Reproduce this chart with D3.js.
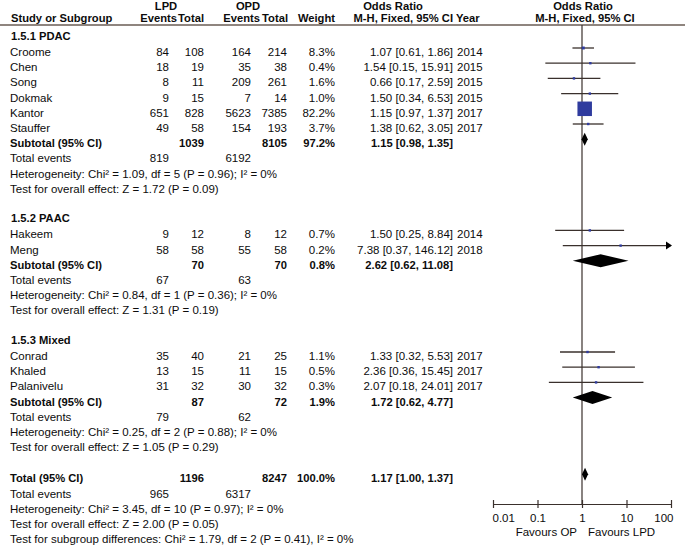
<!DOCTYPE html>
<html><head><meta charset="utf-8">
<script src="https://cdn.jsdelivr.net/npm/d3@7"></script>
<style>
body{margin:0;background:#fff}
svg{display:block}
text{font-family:"Liberation Sans",Arial,sans-serif;font-size:11.5px;fill:#0c0c0c}
.b{font-weight:bold;font-size:11.2px}
</style>
</head><body><svg id="c" width="685" height="545"></svg>
<script>
// ---------- data ----------
const studies    = ["Croome","Chen","Song","Dokmak","Kantor","Stauffer","Hakeem","Meng","Conrad","Khaled","Palanivelu"];
const studyGroup = [0,0,0,0,0,0,1,1,2,2,2];
const lpdEvents  = [84,18,8,9,651,49,9,58,35,13,31];
const lpdTotal   = [108,19,11,15,828,58,12,58,40,15,32];
const opdEvents  = [164,35,209,7,5623,154,8,55,21,11,30];
const opdTotal   = [214,38,261,14,7385,193,12,58,25,15,32];
const weights    = [8.3,0.4,1.6,1.0,82.2,3.7,0.7,0.2,1.1,0.5,0.3];
const orVal      = [1.07,1.54,0.66,1.50,1.15,1.38,1.50,7.38,1.33,2.36,2.07];
const orLo       = [0.61,0.15,0.17,0.34,0.97,0.62,0.25,0.37,0.32,0.36,0.18];
const orHi       = [1.86,15.91,2.59,6.53,1.37,3.05,8.84,146.12,5.53,15.45,24.01];
const years      = [2014,2015,2015,2015,2017,2017,2014,2018,2017,2017,2017];

const groupNames    = ["1.5.1 PDAC","1.5.2 PAAC","1.5.3 Mixed"];
const subLpdTotal   = [1039,70,87];
const subOpdTotal   = [8105,70,72];
const subWeight     = [97.2,0.8,1.9];
const subOr         = [1.15,2.62,1.72];
const subLo         = [0.98,0.62,0.62];
const subHi         = [1.35,11.08,4.77];
const subLpdEvents  = [819,67,79];
const subOpdEvents  = [6192,63,62];
const subHet = [
  "Heterogeneity: Chi² = 1.09, df = 5 (P = 0.96); I² = 0%",
  "Heterogeneity: Chi² = 0.84, df = 1 (P = 0.36); I² = 0%",
  "Heterogeneity: Chi² = 0.25, df = 2 (P = 0.88); I² = 0%"];
const subTest = [
  "Test for overall effect: Z = 1.72 (P = 0.09)",
  "Test for overall effect: Z = 1.31 (P = 0.19)",
  "Test for overall effect: Z = 1.05 (P = 0.29)"];

const totalLpdTotal = 1196, totalOpdTotal = 8247, totalWeight = 100.0;
const totalOr = 1.17, totalLo = 1.00, totalHi = 1.37;
const totalLpdEvents = 965, totalOpdEvents = 6317;
const totalHet  = "Heterogeneity: Chi² = 3.45, df = 10 (P = 0.97); I² = 0%";
const totalTest = "Test for overall effect: Z = 2.00 (P = 0.05)";
const subDiff   = "Test for subgroup differences: Chi² = 1.79, df = 2 (P = 0.41), I² = 0%";

const axisTicks  = [0.01,0.1,1,10,100];
const tickLabels = ["0.01","0.1","1","10","100"];
const favLeft = "Favours OP", favRight = "Favours LPD";

// ---------- layout ----------
const svg = d3.select("#c");
const x = d3.scaleLog().domain([0.01,100]).range([493,671]);
const y = d3.scaleLinear().domain([0,1]).range([48,63.2]);   // row index -> row centre line
const sq = d3.scalePow().exponent(0.7).domain([0,82.2]).range([0,14.5]);
const f2 = d3.format(".2f"), f1 = d3.format(".1f");
const orText = (v,l,h)=>`${f2(v)} [${f2(l)}, ${f2(h)}]`;
const lineCol = "#3a302c", boxCol = "#2f3b9e";
const axisY = 504, headLineY = 25;
const TB = 8; // text baseline offset below row line

const col = {name:10, lpdE:169, lpdT:204, opdE:251, opdT:287, w:335, or:453, yr:456};

function txt(xp, yp, s, anchor, bold){
  return svg.append("text").attr("x",xp).attr("y",yp).attr("text-anchor",anchor||"start")
    .attr("class",bold?"b":null).text(s);
}

// header
txt(166,10,"LPD","middle",true);
txt(248,10,"OPD","middle",true);
txt(393,10,"Odds Ratio","middle",true);
txt(583,10,"Odds Ratio","middle",true);
txt(col.name+1,22,"Study or Subgroup","start",true);
txt(177,22,"Events","end",true);
txt(col.lpdT,22,"Total","end",true);
txt(260,22,"Events","end",true);
txt(col.opdT+1,22,"Total","end",true);
txt(col.w,22,"Weight","end",true);
txt(col.or,22,"M-H, Fixed, 95% CI","end",true);
txt(col.yr,22,"Year","start",true);
txt(585,22,"M-H, Fixed, 95% CI","middle",true);
svg.append("line").attr("x1",0).attr("x2",685).attr("y1",headLineY).attr("y2",headLineY)
  .attr("stroke","#6a5d55").attr("stroke-width",1.5);

// zero line
svg.append("line").attr("x1",x(1)).attr("x2",x(1)).attr("y1",headLineY).attr("y2",axisY)
  .attr("stroke",lineCol).attr("stroke-width",1.2);

// build rows
let idx = -1.05;
const plot = svg.append("g");
function diamond(r, v, l, h){
  const cy = y(r), hh = 6.5;
  plot.append("path").attr("d",`M${x(l)},${cy}L${x(v)},${cy-hh}L${x(h)},${cy}L${x(v)},${cy+hh}Z`).attr("fill","#000");
}
groupNames.forEach((gName,g)=>{
  txt(col.name+1, y(idx)+TB, gName, "start", true);
  idx += 1.05;
  studies.forEach((s,i)=>{
    if(studyGroup[i]!==g) return;
    const b = y(idx)+TB;
    txt(col.name, b, s);
    txt(col.lpdE, b, lpdEvents[i], "end");
    txt(col.lpdT, b, lpdTotal[i], "end");
    txt(col.opdE, b, opdEvents[i], "end");
    txt(col.opdT, b, opdTotal[i], "end");
    txt(col.w, b, f1(weights[i])+"%", "end");
    txt(col.or, b, orText(orVal[i],orLo[i],orHi[i]), "end");
    txt(col.yr+1, b, years[i], "start");
    const cy = y(idx);
    const hiC = Math.min(orHi[i], x.domain()[1]);
    plot.append("line").attr("x1",x(orLo[i])).attr("x2",x(hiC)).attr("y1",cy).attr("y2",cy)
      .attr("stroke",lineCol).attr("stroke-width",1.3);
    if(orHi[i] > x.domain()[1]){
      const ax = x(x.domain()[1]);
      plot.append("path").attr("d",`M${ax-5},${cy-4}L${ax+1},${cy}L${ax-5},${cy+4}Z`).attr("fill","#000");
    }
    const s2 = Math.max(2.4, sq(weights[i]));
    plot.append("rect").attr("x",x(orVal[i])-s2/2).attr("y",cy-s2/2).attr("width",s2).attr("height",s2)
      .attr("fill",boxCol);
    idx += 1;
  });
  let b = y(idx)+TB;
  txt(col.name, b, "Subtotal (95% CI)", "start", true);
  txt(col.lpdT, b, subLpdTotal[g], "end", true);
  txt(col.opdT, b, subOpdTotal[g], "end", true);
  txt(col.w, b, f1(subWeight[g])+"%", "end", true);
  txt(col.or, b, orText(subOr[g],subLo[g],subHi[g]), "end", true);
  diamond(idx, subOr[g], subLo[g], subHi[g]);
  idx += 1; b = y(idx)+TB;
  txt(col.name, b, "Total events");
  txt(col.lpdE, b, subLpdEvents[g], "end");
  txt(col.opdE, b, subOpdEvents[g], "end");
  idx += 1; txt(col.name, y(idx)+TB, subHet[g]);
  idx += 1; txt(col.name, y(idx)+TB, subTest[g]);
  idx += 1.95;
});
idx += 0.1;
let b = y(idx)+TB;
txt(col.name, b, "Total (95% CI)", "start", true);
txt(col.lpdT, b, totalLpdTotal, "end", true);
txt(col.opdT, b, totalOpdTotal, "end", true);
txt(col.w, b, f1(totalWeight)+"%", "end", true);
txt(col.or, b, orText(totalOr,totalLo,totalHi), "end", true);
diamond(idx, totalOr, totalLo, totalHi);
idx += 1; b = y(idx)+TB;
txt(col.name, b, "Total events");
txt(col.lpdE, b, totalLpdEvents, "end");
txt(col.opdE, b, totalOpdEvents, "end");
idx += 1; txt(col.name, y(idx)+TB, totalHet);
idx += 1; txt(col.name, y(idx)+TB, totalTest);
idx += 1; txt(col.name, y(idx)+TB, subDiff);

// axis
const axis = d3.axisBottom(x).tickValues(axisTicks).tickFormat((d,i)=>tickLabels[i])
  .tickSizeInner(4).tickSizeOuter(0);
const ga = svg.append("g").attr("transform",`translate(0,${axisY})`).call(axis);
ga.attr("font-family",null).attr("font-size",null);
ga.select(".domain").attr("stroke",lineCol).attr("stroke-width",1.2);
ga.selectAll(".tick line").attr("y1",-4).attr("y2",4).attr("stroke",lineCol).attr("stroke-width",1.2);
ga.selectAll(".tick text").attr("y",18).attr("dy",null).attr("fill","#0c0c0c")
  .attr("text-anchor",(d,i)=> i===0?"start":(i===axisTicks.length-1?"end":"middle"))
  .attr("dx",(d,i)=> i===0?-1:(i===axisTicks.length-1?2:0));
txt(x(1)-5, 536, favLeft, "end");
txt(x(1)+6, 536, favRight, "start");
</script>
</body></html>
